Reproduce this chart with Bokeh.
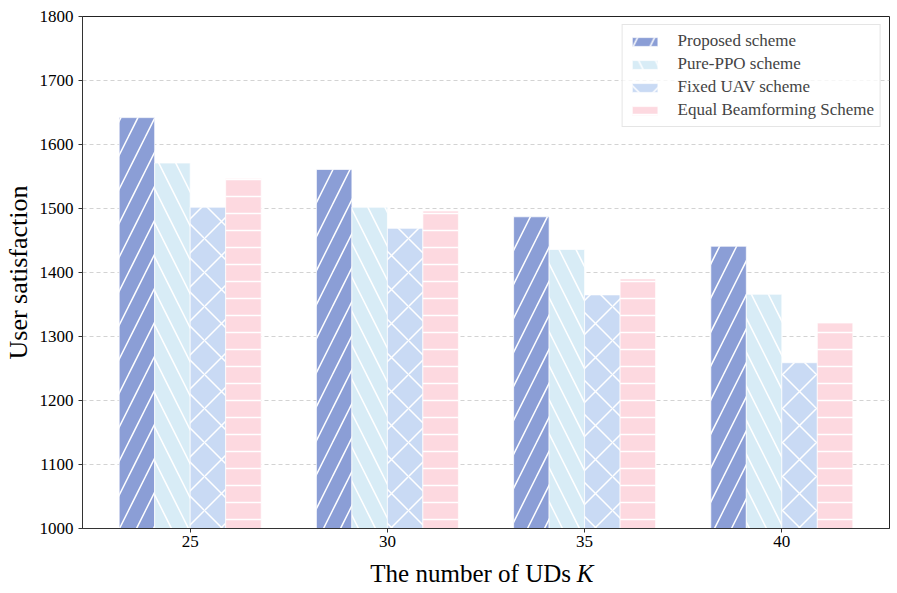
from bokeh.plotting import figure
from bokeh.models import ColumnDataSource, Range1d, FixedTicker, Legend, LegendItem
from bokeh.layouts import column
from bokeh.core.properties import value
from bokeh.embed import file_html
from bokeh.resources import INLINE

categories = ["25", "30", "35", "40"]
series_names = ["Proposed scheme", "Pure-PPO scheme", "Fixed UAV scheme", "Equal Beamforming Scheme"]
proposed = [1642, 1561, 1487, 1441]
pure_ppo = [1571, 1502, 1436, 1366]
fixed_uav = [1502, 1469, 1365, 1259]
equal_bf = [1547, 1496, 1390, 1321]

colors = ["#8b9ed6", "#d8ecf6", "#c9daf4", "#fdd9e0"]
hatches = ["/", "\\", "x", "-"]
hatch_scales = [34, 34, 34, 17]
width = 0.18

FONT = "Liberation Serif"

p = figure(frame_width=807, frame_height=512, output_backend="svg", toolbar_location=None,
           x_range=Range1d(-0.546, 3.546), y_range=Range1d(1000, 1800),
           min_border_left=76, min_border_top=16, min_border_right=4, min_border_bottom=0)

xs = list(range(len(categories)))
items = []
for i, vals in enumerate([proposed, pure_ppo, fixed_uav, equal_bf]):
    off = (i - 1.5) * width
    src = ColumnDataSource(dict(x=[x + off for x in xs], top=vals))
    r = p.vbar(x="x", top="top", bottom=1000, width=width, source=src,
               fill_color=colors[i], line_color="white", line_width=1, line_alpha=0.7,
               hatch_pattern=hatches[i], hatch_color="white", hatch_weight=1.5,
               hatch_scale=hatch_scales[i], hatch_alpha=1.0)
    items.append(LegendItem(label=series_names[i], renderers=[r]))

legend = Legend(items=items, location="top_right", label_text_font=FONT,
                label_text_font_size="17px", glyph_width=32, glyph_height=11,
                label_height=20, spacing=3, padding=6, margin=8, label_standoff=17,
                border_line_color="#cccccc", border_line_width=1,
                background_fill_alpha=0.8)
p.add_layout(legend, "center")

p.xaxis.ticker = FixedTicker(ticks=xs)
p.xaxis.major_label_overrides = {x: c for x, c in zip(xs, categories)}
p.yaxis.ticker = FixedTicker(ticks=list(range(1000, 1801, 100)))

for ax in [p.xaxis, p.yaxis]:
    ax.major_label_text_font = FONT
    ax.major_label_text_font_size = "17px"
    ax.major_label_text_color = "black"
    ax.major_label_standoff = 5
    ax.major_tick_in = 0
    ax.major_tick_out = 4
    ax.minor_tick_line_color = None
    ax.axis_line_color = "#333333"
    ax.major_tick_line_color = "#333333"
p.xaxis.major_label_standoff = 3

p.yaxis.axis_label = "User satisfaction"
p.yaxis.axis_label_text_font = FONT
p.yaxis.axis_label_text_font_size = "26px"
p.yaxis.axis_label_text_font_style = "normal"
p.yaxis.axis_label_text_color = "black"
p.yaxis.axis_label_standoff = 4

p.xgrid.grid_line_color = None
p.ygrid.grid_line_color = "#c8c8c8"
p.ygrid.grid_line_dash = "4 3"
p.ygrid.grid_line_width = 0.8

p.outline_line_color = "#222222"
p.outline_line_width = 1

# x-axis title strip (mixed upright / italic text); its frame aligns with the main frame
FW = 807
H2 = 40
p2 = figure(width=887, height=H2, output_backend="svg", toolbar_location=None,
            x_range=Range1d(0, FW), y_range=Range1d(-H2, 0), min_border=0,
            outline_line_color=None)
p2.axis.visible = False
p2.grid.grid_line_color = None
xlabel_parts = ["The number of UDs", "K"]
p2.text(x=[290], y=[-24], text=[xlabel_parts[0]], text_font=value(FONT), text_font_size="25px",
        text_align="left", text_baseline="alphabetic", text_color="black")
p2.text(x=[498], y=[-24], text=[xlabel_parts[1]], text_font=value(FONT), text_font_size="25px",
        text_font_style="italic", text_align="left", text_baseline="alphabetic", text_color="black")

layout = column(p, p2, spacing=0)
open("out.html", "w").write(file_html(layout, INLINE))
